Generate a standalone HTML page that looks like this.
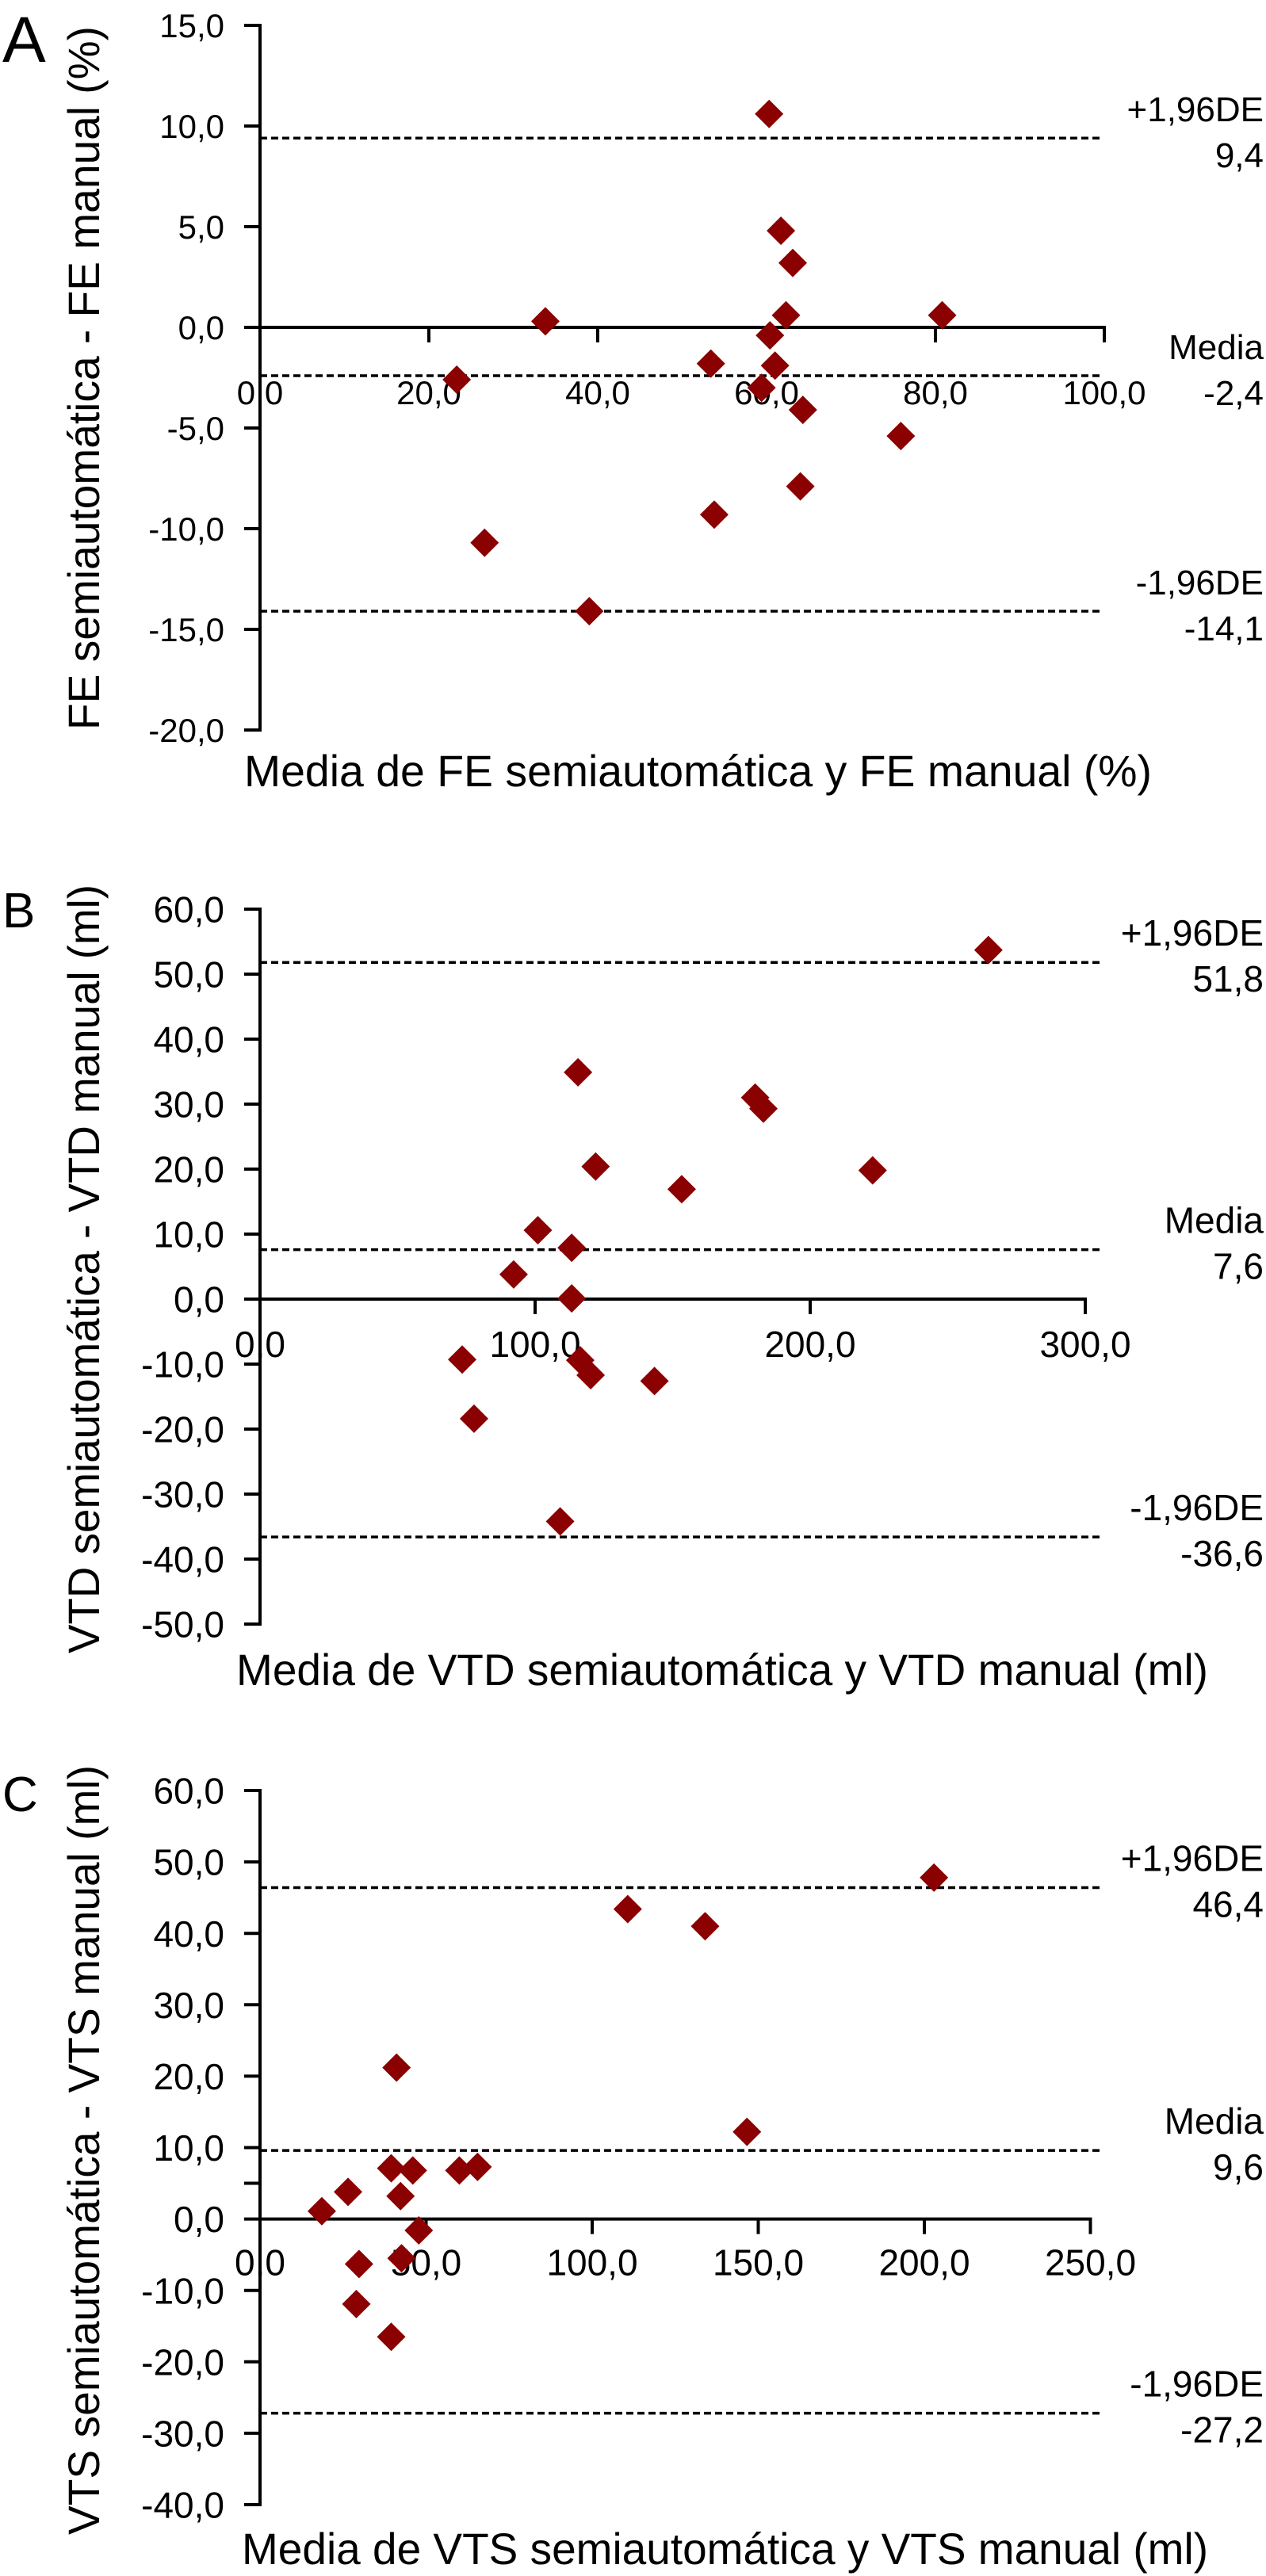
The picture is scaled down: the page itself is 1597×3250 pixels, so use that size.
<!DOCTYPE html>
<html><head><meta charset="utf-8"><style>
html,body{margin:0;padding:0;background:#fff;}
svg{display:block;font-family:"Liberation Sans",Arial,sans-serif;}
</style></head><body>
<svg id="fig" width="1597" height="3250" viewBox="0 0 1597 3250" xmlns="http://www.w3.org/2000/svg"></svg>
<script>
// Panel A data (FE)
const aX = [60.3,61.7,63.1,33.8,62.3,80.8,60.4,61.0,53.4,23.3,59.4,64.3,75.9,64.0,53.8,26.6,39.0];
const aY = [10.6,4.8,3.2,0.3,0.6,0.6,-0.4,-1.9,-1.8,-2.6,-3.0,-4.1,-5.4,-7.9,-9.3,-10.7,-14.1];
const aYTicks = [15,10,5,0,-5,-10,-15,-20];
const aXTicks = [0,20,40,60,80,100];
const aLimits = [9.4,-2.4,-14.1];
// Panel B data (VTD)
const bX = [264.8,115.6,180,183,122,222.7,153.3,101,113.3,92.2,113.3,73.5,116.4,120.2,143.4,77.8,109.1];
const bY = [53.7,34.9,31.0,29.3,20.4,19.8,16.9,10.6,7.9,3.8,0.1,-9.3,-9.4,-11.7,-12.6,-18.4,-34.2];
const bYTicks = [60,50,40,30,20,10,0,-10,-20,-30,-40,-50];
const bXTicks = [0,100,200,300];
const bLimits = [51.8,7.6,-36.6];
// Panel C data (VTS)
const cX = [202.9,110.7,134,146.6,41.1,39.5,46,60,65.5,26.5,42.3,18.6,47.8,29.8,42.6,29,39.5];
const cY = [47.8,43.4,41.0,12.2,21.2,7.1,6.8,6.8,7.3,3.8,3.2,1.1,-1.6,-6.3,-5.5,-11.9,-16.5];
const cYTicks = [60,50,40,30,20,10,5,0,-10,-20,-30,-40];
const cYLabels = ["60,0","50,0","40,0","30,0","20,0","10,0","","0,0","-10,0","-20,0","-30,0","-40,0"];
const cXTicks = [0,50,100,150,200,250];
const cLimits = [46.4,9.6,-27.2];
const limitNames = ["+1,96DE","Media","-1,96DE"];

const NS="http://www.w3.org/2000/svg";
const svg=document.getElementById('fig');
function el(tag,attrs,parent){const e=document.createElementNS(NS,tag);for(const k in attrs)e.setAttribute(k,attrs[k]);(parent||svg).appendChild(e);return e;}
function fmt(v){return v.toFixed(1).replace('.',',');}

function panel(cfg){
  const g=el('g',{});
  
  
  const x0=328, yTop=cfg.yTop, yPer=cfg.yPer, xPer=cfg.xPer, yMax=cfg.yMax;
  const sx=v=>x0+v*xPer;
  const sy=v=>yTop+(yMax-v)*yPer;
  const yBot=sy(cfg.yMin);
  // panel letter
  const L=el('text',{x:3,y:cfg.letterY,'font-size':cfg.letterSize,fill:'#000'},g);L.textContent=cfg.id.toUpperCase();
  
  
  // y axis
  const ya=el('line',{x1:x0,y1:yTop-2,x2:x0,y2:yBot+2,stroke:'#000','stroke-width':4},g);
  
  
  cfg.yTicks.forEach((t,i)=>{
    el('line',{x1:308,y1:sy(t),x2:x0,y2:sy(t),stroke:'#000','stroke-width':4},g);
    const lab=cfg.yLabels?cfg.yLabels[i]:fmt(t);
    if(lab){const tx=el('text',{x:283,y:sy(t)+cfg.tickFont*0.36,'font-size':cfg.tickFont,'text-anchor':'end',fill:'#000'},g);tx.textContent=lab;
      
      }
  });
  // x axis at 0
  const xEnd=sx(cfg.xTicks[cfg.xTicks.length-1]);
  const xa=el('line',{x1:x0,y1:sy(0),x2:xEnd+2,y2:sy(0),stroke:'#000','stroke-width':4},g);
  
  
  cfg.xTicks.forEach(t=>{
    el('line',{x1:sx(t),y1:sy(0),x2:sx(t),y2:sy(0)+19,stroke:'#000','stroke-width':4},g);
    const tx=el('text',{x:sx(t),y:sy(0)+cfg.xLabOff,'font-size':cfg.tickFont,'text-anchor':'middle',fill:'#000'},g);tx.textContent=fmt(t);
    
    
  });
  // limit lines
  cfg.limits.forEach((v,i)=>{
    const ln=el('line',{x1:x0,y1:sy(v),x2:1391,y2:sy(v),stroke:'#000','stroke-width':3.5,'stroke-dasharray':'9,5'},g);
    
    
    const t1=el('text',{x:1594,y:sy(v)-21,'font-size':cfg.limFont,'text-anchor':'end',fill:'#000'},g);t1.textContent=limitNames[i];
    
    
    const t2=el('text',{x:1594,y:sy(v)+37,'font-size':cfg.limFont,'text-anchor':'end',fill:'#000'},g);t2.textContent=fmt(v);
    
    
  });
  // points
  cfg.xs.forEach((xv,i)=>{
    const px=sx(xv), py=sy(cfg.ys[i]), h=18;
    const p=el('polygon',{points:`${px},${py-h} ${px+h},${py} ${px},${py+h} ${px-h},${py}`,fill:'#8b0000'},g);
    
    
  });
  // titles
  const xt=el('text',{x:cfg.xtX,y:cfg.xtY,'font-size':cfg.titleFont,textLength:cfg.xtLen,lengthAdjust:'spacingAndGlyphs',fill:'#000'},g);xt.textContent=cfg.xTitle;
  
  
  const cy=(cfg.ytA+cfg.ytB)/2;
  const yt=el('text',{x:0,y:0,'font-size':cfg.titleFont,'text-anchor':'middle',textLength:cfg.ytB-cfg.ytA,lengthAdjust:'spacingAndGlyphs',transform:`translate(${cfg.ytBase},${cy}) rotate(-90)`,fill:'#000'},g);yt.textContent=cfg.yTitle;
  
  
}

panel({id:'a',yTop:32,yPer:25.4,yMax:15,yMin:-20,xPer:10.65,yTicks:aYTicks,xTicks:aXTicks,limits:aLimits,xs:aX,ys:aY,
  letterY:78,letterSize:82,tickFont:42,xLabOff:97,limFont:44,titleFont:56,
  xTitle:'Media de FE semiautomática y FE manual (%)',xtX:308,xtY:992,xtLen:1145,
  yTitle:'FE semiautomática - FE manual (%)',ytA:33,ytB:921,ytBase:125});
panel({id:'b',yTop:1147,yPer:8.2,yMax:60,yMin:-50,xPer:3.47,yTicks:bYTicks,xTicks:bXTicks,limits:bLimits,xs:bX,ys:bY,
  letterY:1170,letterSize:62,tickFont:46,xLabOff:73,limFont:46,titleFont:56,
  xTitle:'Media de VTD semiautomática y VTD manual (ml)',xtX:298,xtY:2126,xtLen:1226,
  yTitle:'VTD semiautomática - VTD manual (ml)',ytA:1116,ytB:2086,ytBase:125});
panel({id:'c',yTop:2259,yPer:9.01,yMax:60,yMin:-40,xPer:4.19,yTicks:cYTicks,yLabels:cYLabels,xTicks:cXTicks,limits:cLimits,xs:cX,ys:cY,
  letterY:2285,letterSize:62,tickFont:46,xLabOff:71,limFont:46,titleFont:56,
  xTitle:'Media de VTS semiautomática y VTS manual (ml)',xtX:305,xtY:3235,xtLen:1219,
  yTitle:'VTS semiautomática - VTS manual (ml)',ytA:2227,ytB:3198,ytBase:125});
</script>
</body></html>
